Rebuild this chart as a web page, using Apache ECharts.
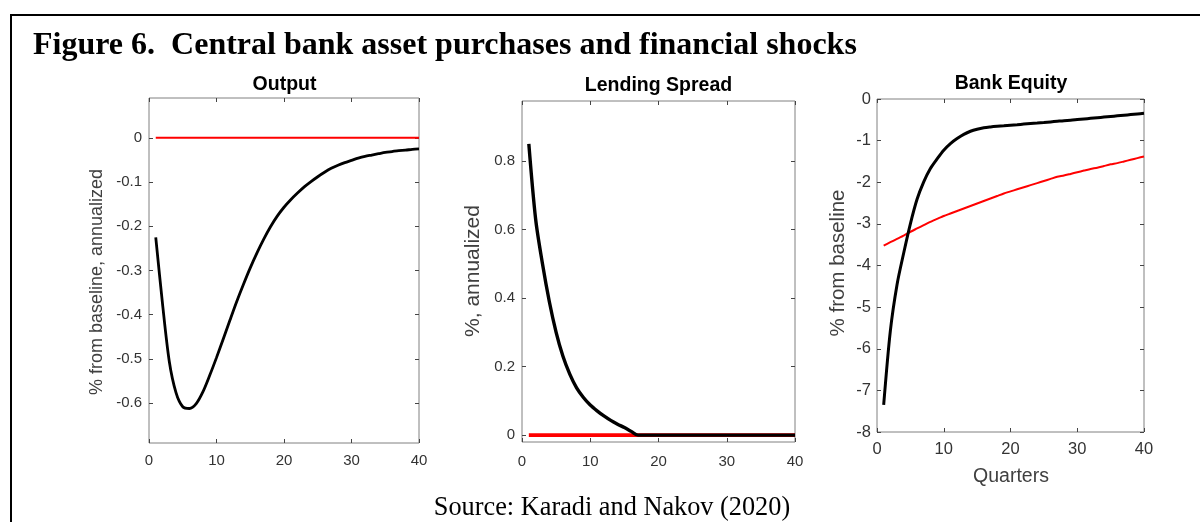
<!DOCTYPE html>
<html>
<head>
<meta charset="utf-8">
<script src="https://cdn.jsdelivr.net/npm/echarts@6/dist/echarts.min.js"></script>
<style>
  html, body { margin: 0; padding: 0; background: #fff; }
  #fig { width: 1200px; height: 522px; }
</style>
</head>
<body>
<div id="fig"></div>
<script>
// quarters after the shock
const quarters = [1, 2, 3, 4, 5, 6, 7, 8, 9, 10, 11, 12, 13, 14, 15, 16, 17, 18, 19, 20,
  21, 22, 23, 24, 25, 26, 27, 28, 29, 30, 31, 32, 33, 34, 35, 36, 37, 38, 39, 40];

// Output (% from baseline, annualized)
const outputBlack = [-0.225, -0.375, -0.505, -0.576, -0.608, -0.612, -0.601, -0.574, -0.537, -0.497,
  -0.455, -0.412, -0.37, -0.331, -0.294, -0.26, -0.229, -0.201, -0.177, -0.157,
  -0.14, -0.125, -0.111, -0.099, -0.088, -0.078, -0.069, -0.062, -0.056, -0.051,
  -0.046, -0.042, -0.039, -0.036, -0.033, -0.031, -0.029, -0.028, -0.026, -0.025];
const outputRed = [0, 0, 0, 0, 0, 0, 0, 0, 0, 0, 0, 0, 0, 0, 0, 0, 0, 0, 0, 0,
  0, 0, 0, 0, 0, 0, 0, 0, 0, 0, 0, 0, 0, 0, 0, 0, 0, 0, 0, 0];

// Lending spread (%, annualized)
const spreadBlack = [0.85, 0.63, 0.5, 0.39, 0.3, 0.23, 0.178, 0.138, 0.11, 0.088,
  0.071, 0.056, 0.043, 0.032, 0.022, 0.011, 0, 0, 0, 0,
  0, 0, 0, 0, 0, 0, 0, 0, 0, 0, 0, 0, 0, 0, 0, 0, 0, 0, 0, 0];
const spreadRed = [0, 0, 0, 0, 0, 0, 0, 0, 0, 0, 0, 0, 0, 0, 0, 0, 0, 0, 0, 0,
  0, 0, 0, 0, 0, 0, 0, 0, 0, 0, 0, 0, 0, 0, 0, 0, 0, 0, 0, 0];

// Bank equity (% from baseline)
const equityBlack = [-7.35, -5.57, -4.46, -3.7, -3.0, -2.41, -1.99, -1.67, -1.44, -1.23,
  -1.07, -0.95, -0.85, -0.775, -0.725, -0.69, -0.67, -0.655, -0.643, -0.63,
  -0.617, -0.603, -0.59, -0.578, -0.565, -0.55, -0.535, -0.52, -0.51, -0.495,
  -0.48, -0.465, -0.45, -0.435, -0.42, -0.405, -0.39, -0.375, -0.36, -0.345];
const equityRed = [-3.52, -3.44, -3.36, -3.28, -3.19, -3.11, -3.03, -2.95, -2.88, -2.81,
  -2.75, -2.69, -2.63, -2.57, -2.51, -2.45, -2.39, -2.33, -2.27, -2.22,
  -2.17, -2.12, -2.07, -2.02, -1.97, -1.92, -1.87, -1.84, -1.8, -1.76,
  -1.72, -1.68, -1.65, -1.61, -1.57, -1.54, -1.5, -1.46, -1.42, -1.38];

// tick labels
const outputTicks = [0, -0.1, -0.2, -0.3, -0.4, -0.5, -0.6];
const spreadTicks = [0, 0.2, 0.4, 0.6, 0.8];
const equityTicks = [0, -1, -2, -3, -4, -5, -6, -7, -8];

const SANS = '"Liberation Sans", Arial, Helvetica, sans-serif';
const SERIF = '"Liberation Serif", "Times New Roman", serif';

// one entry per subplot: box position, y range, fonts, line widths
const panels = [
  { title: 'Output', yName: '% from baseline, annualized',
    grid: { left: 149, top: 98, width: 270, height: 345 },
    yMin: -0.69, yMax: 0.09, yTicks: outputTicks,
    black: outputBlack, red: outputRed, blackW: 2.8, redW: 2,
    labelSize: 15, xMargin: 10, yMargin: 7,
    titleXY: [284.5, 85], nameXY: [97, 282], nameSize: 18 },
  { title: 'Lending Spread', yName: '%, annualized',
    grid: { left: 522, top: 101, width: 273, height: 341 },
    yMin: -0.02, yMax: 0.975, yTicks: spreadTicks,
    black: spreadBlack, red: spreadRed, blackW: 3.4, redW: 3.6,
    labelSize: 15, xMargin: 12, yMargin: 7,
    titleXY: [658.5, 86], nameXY: [473, 271], nameSize: 21 },
  { title: 'Bank Equity', yName: '% from baseline',
    grid: { left: 877, top: 99, width: 267, height: 333 },
    yMin: -8, yMax: 0, yTicks: equityTicks,
    black: equityBlack, red: equityRed, blackW: 3, redW: 2,
    labelSize: 16.5, xMargin: 9, yMargin: 6,
    titleXY: [1011, 84], nameXY: [838, 263], nameSize: 20.5 }
];

function pairs(ys) {
  return quarters.map((q, i) => [q, ys[i]]);
}

// MATLAB-style box: ticks point inwards on all four sides, no axis lines of their own
const tick = { inside: true, length: 4, lineStyle: { color: '#444', width: 1 } };
const noLine = { show: false, onZero: false };

const grids = [];
const xAxes = [];
const yAxes = [];
const series = [];
const texts = [];

panels.forEach((p, i) => {
  grids.push(Object.assign({
    show: true, borderColor: '#808080', borderWidth: 1,
    backgroundColor: '#fff', outerBoundsMode: 'none'
  }, p.grid));

  const xBase = {
    gridIndex: i, type: 'value', min: 0, max: 40, interval: 10,
    axisLine: noLine, splitLine: { show: false }, axisTick: tick
  };
  xAxes.push(Object.assign({}, xBase, {
    position: 'bottom',
    axisLabel: { fontSize: p.labelSize, fontFamily: SANS, color: '#333',
      margin: p.xMargin, showMinLabel: true, showMaxLabel: true }
  }));
  xAxes.push(Object.assign({}, xBase, { position: 'top', axisLabel: { show: false } }));

  const yBase = {
    gridIndex: i, type: 'value', min: p.yMin, max: p.yMax,
    axisLine: noLine, splitLine: { show: false },
    axisTick: Object.assign({ customValues: p.yTicks }, tick)
  };
  yAxes.push(Object.assign({}, yBase, {
    position: 'left',
    axisLabel: { customValues: p.yTicks, fontSize: p.labelSize, fontFamily: SANS,
      color: '#333', margin: p.yMargin }
  }));
  yAxes.push(Object.assign({}, yBase, { position: 'right', axisLabel: { show: false } }));

  // red first so the black path sits on top of it
  series.push({
    type: 'line', xAxisIndex: 2 * i, yAxisIndex: 2 * i, data: pairs(p.red),
    showSymbol: false, smooth: 0.2, silent: true,
    lineStyle: { color: '#ff0000', width: p.redW }
  });
  series.push({
    type: 'line', xAxisIndex: 2 * i, yAxisIndex: 2 * i, data: pairs(p.black),
    showSymbol: false, smooth: 0.3, silent: true,
    lineStyle: { color: '#000', width: p.blackW }
  });

  texts.push({
    type: 'text', x: p.titleXY[0], y: p.titleXY[1],
    style: { text: p.title, font: 'bold 19.5px ' + SANS, fill: '#000',
      align: 'center', verticalAlign: 'middle', textAlign: 'center', textVerticalAlign: 'middle' }
  });
  texts.push({
    type: 'text', x: p.nameXY[0], y: p.nameXY[1], rotation: Math.PI / 2,
    style: { text: p.yName, font: p.nameSize + 'px ' + SANS, fill: '#404040',
      align: 'center', verticalAlign: 'middle', textAlign: 'center', textVerticalAlign: 'middle' }
  });
});

// x-axis name only on the last panel
texts.push({
  type: 'text', x: 1011, y: 477,
  style: { text: 'Quarters', font: '19.5px ' + SANS, fill: '#404040',
    align: 'center', verticalAlign: 'middle', textAlign: 'center', textVerticalAlign: 'middle' }
});

// figure frame, heading and source line
const frame = {
  type: 'rect', z: -1, shape: { x: 11, y: 15, width: 1200, height: 600 },
  style: { fill: 'none', stroke: '#000', lineWidth: 2 }
};
texts.push({
  type: 'text', x: 33, y: 46,
  style: { text: 'Figure 6.  Central bank asset purchases and financial shocks',
    font: 'bold 32px ' + SERIF, fill: '#000',
    align: 'left', verticalAlign: 'middle', textAlign: 'left', textVerticalAlign: 'middle' }
});
texts.push({
  type: 'text', x: 612, y: 508,
  style: { text: 'Source: Karadi and Nakov (2020)', font: '26.3px ' + SERIF, fill: '#000',
    align: 'center', verticalAlign: 'middle', textAlign: 'center', textVerticalAlign: 'middle' }
});

const chart = echarts.init(document.getElementById('fig'), null, { renderer: 'canvas' });
chart.setOption({
  animation: false,
  backgroundColor: '#fff',
  grid: grids,
  xAxis: xAxes,
  yAxis: yAxes,
  series: series,
  graphic: [frame].concat(texts)
});
</script>
</body>
</html>
